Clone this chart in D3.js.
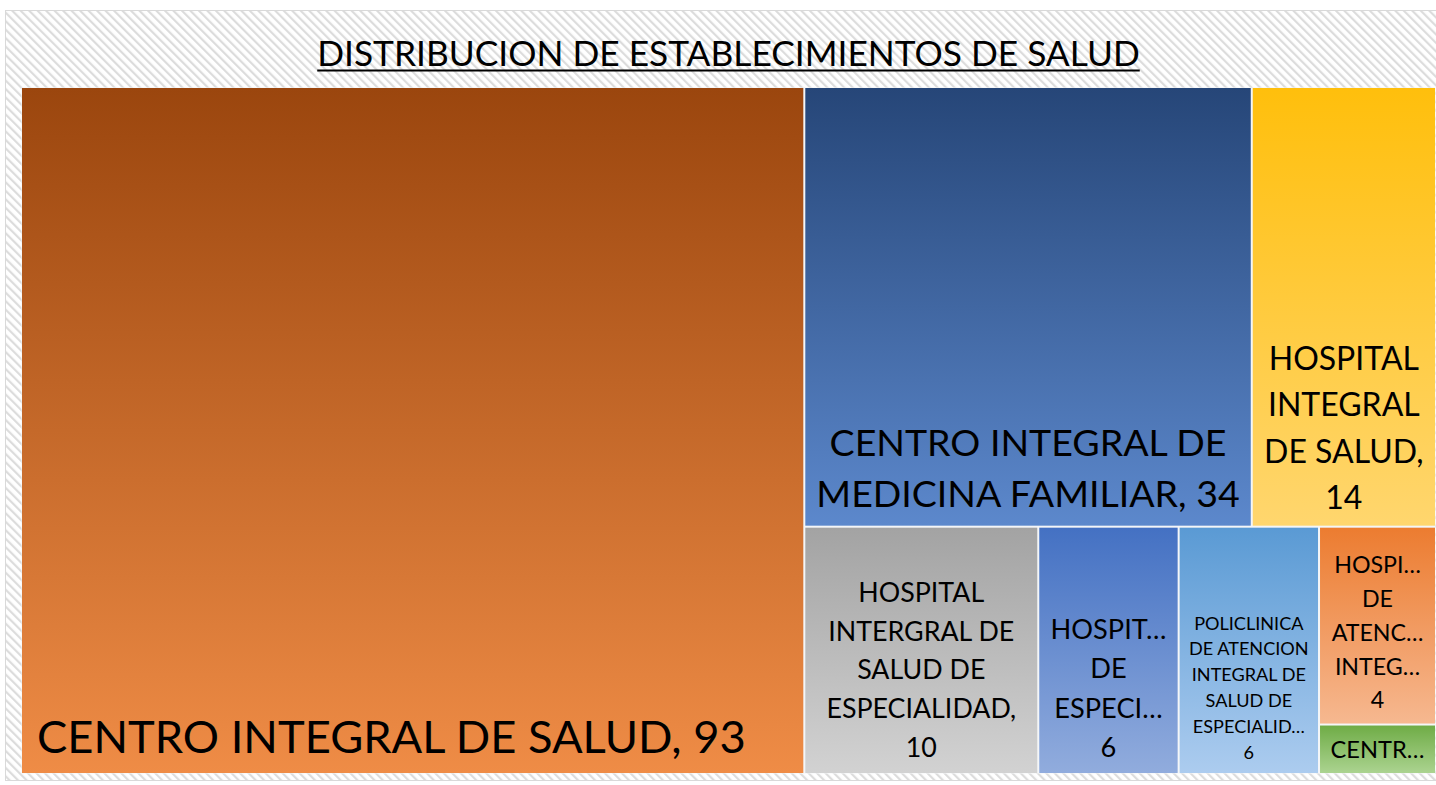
<!DOCTYPE html>
<html>
<head>
<meta charset="utf-8">
<script src="https://cdn.jsdelivr.net/npm/d3@7"></script>
<style>
  body { margin: 0; background: #fff; }
  text { font-family: Lato, "Open Sans", sans-serif; fill: #000; }
</style>
</head>
<body>
<div id="chart"></div>
<script>
// data
var names = [
  "CENTRO INTEGRAL DE SALUD",
  "CENTRO INTEGRAL DE MEDICINA FAMILIAR",
  "HOSPITAL INTEGRAL DE SALUD",
  "HOSPITAL INTERGRAL DE SALUD DE ESPECIALIDAD",
  "HOSPITAL DE ESPECIALIDAD",
  "POLICLINICA DE ATENCION INTEGRAL DE SALUD DE ESPECIALIDAD",
  "HOSPITAL DE ATENCION INTEGRAL",
  "CENTRO"
];
var values = [93, 34, 14, 10, 6, 6, 4, 1];

// the label as Excel shows it (wrapped / cut)
var labelLines = [
  ["CENTRO INTEGRAL DE SALUD, 93"],
  ["CENTRO INTEGRAL DE", "MEDICINA FAMILIAR, 34"],
  ["HOSPITAL", "INTEGRAL", "DE SALUD,", "14"],
  ["HOSPITAL", "INTERGRAL DE", "SALUD DE", "ESPECIALIDAD,", "10"],
  ["HOSPIT\u2026", "DE", "ESPECI\u2026", "6"],
  ["POLICLINICA", "DE ATENCION", "INTEGRAL DE", "SALUD DE", "ESPECIALID\u2026", "6"],
  ["HOSPI\u2026", "DE", "ATENC\u2026", "INTEG\u2026", "4"],
  ["CENTR\u2026"]
];

var title = "DISTRIBUCION DE ESTABLECIMIENTOS DE SALUD";

// how excel nested the tiles: 93 | ( [34 14] / [10 6 6 (4/1)] )
var layoutTree = [0, [[1, 2], [3, 4, 5, [6, 7]]]];

// styles
var topColors    = ["#9b460e", "#264678", "#ffbf0c", "#a3a3a3", "#4471c3", "#5a9ad4", "#ec7c30", "#6fac46"];
var bottomColors = ["#ef8c46", "#5c88cc", "#ffd66e", "#d2d2d2", "#91acdd", "#acccef", "#f6b890", "#abd390"];
var fontSizes    = [45.3, 37.5, 32, 26.8, 27.2, 18.1, 23.2, 23.6];
var lineFactor   = [1.3, 1.38, 1.44, 1.45, 1.45, 1.43, 1.46, 1.4];

var W = 1436, H = 785;
var margin = {top: 88, right: 1, bottom: 12, left: 22},
    width = W - margin.left - margin.right,
    height = H - margin.top - margin.bottom;

var svg = d3.select("#chart")
  .append("svg")
    .attr("width", W)
    .attr("height", H);

var defs = svg.append("defs");

// striped chart background
var pat = defs.append("pattern")
    .attr("id", "stripes")
    .attr("patternUnits", "userSpaceOnUse")
    .attr("width", 6)
    .attr("height", 6)
    .attr("patternTransform", "rotate(-45)");
pat.append("rect").attr("width", 6).attr("height", 6).attr("fill", "#ffffff");
pat.append("rect").attr("width", 2.2).attr("height", 6).attr("fill", "#dcdcdc");

svg.append("rect")
    .attr("x", 5.5)
    .attr("y", 10.5)
    .attr("width", W - 5)
    .attr("height", H - 15)
    .attr("fill", "url(#stripes)")
    .attr("stroke", "#d9d9d9");

// gradients, one per tile
values.forEach(function(v, i) {
  var g = defs.append("linearGradient")
      .attr("id", "grad" + i)
      .attr("x1", 0).attr("y1", 0)
      .attr("x2", 0).attr("y2", 1);
  g.append("stop").attr("offset", "0%").attr("stop-color", topColors[i]);
  g.append("stop").attr("offset", "100%").attr("stop-color", bottomColors[i]);
});

// title
var titleText = svg.append("text")
    .attr("x", margin.left + width / 2)
    .attr("y", 66)
    .attr("text-anchor", "middle")
    .style("font-size", "35.3px")
    .text(title);
var tw = titleText.node().getComputedTextLength();
svg.append("rect")
    .attr("x", margin.left + width / 2 - tw / 2)
    .attr("y", 69.5)
    .attr("width", tw)
    .attr("height", 2)
    .attr("fill", "#000");

// build the hierarchy
function build(node) {
  if (Array.isArray(node)) return {children: node.map(build)};
  return {idx: node, name: names[node], value: values[node]};
}
var root = d3.hierarchy(build(layoutTree))
    .sum(function(d) { return d.value ? d.value : 0; });

d3.treemap()
    .tile(d3.treemapSliceDice)
    .size([width, height])
    .paddingInner(2)
    (root);

var g = svg.append("g")
    .attr("transform", "translate(" + margin.left + "," + margin.top + ")");

// white behind the tiles so the gaps look solid
g.append("rect")
    .attr("x", -0.5)
    .attr("y", -0.5)
    .attr("width", width + 1)
    .attr("height", height + 1)
    .attr("fill", "#f4f6f8");

var cell = g.selectAll("g.cell")
  .data(root.leaves())
  .enter()
  .append("g")
    .attr("class", "cell");

cell.append("rect")
    .attr("x", function(d) { return d.x0; })
    .attr("y", function(d) { return d.y0; })
    .attr("width", function(d) { return d.x1 - d.x0; })
    .attr("height", function(d) { return d.y1 - d.y0; })
    .attr("fill", function(d) { return "url(#grad" + d.data.idx + ")"; });

cell.each(function(d) {
  var i = d.data.idx,
      lines = labelLines[i],
      fs = fontSizes[i],
      lh = fs * lineFactor[i],
      pad = 10 + fs * 0.22,
      left = (i === 0),
      x = left ? d.x0 + 15 : (d.x0 + d.x1) / 2,
      yLast = d.y1 - pad;
  var t = d3.select(this).append("text")
      .attr("text-anchor", left ? "start" : "middle")
      .style("font-size", fs + "px");
  t.selectAll("tspan")
    .data(lines)
    .enter()
    .append("tspan")
      .attr("x", x)
      .attr("y", function(l, k) { return yLast - (lines.length - 1 - k) * lh; })
      .text(function(l) { return l; });
});
</script>
</body>
</html>
